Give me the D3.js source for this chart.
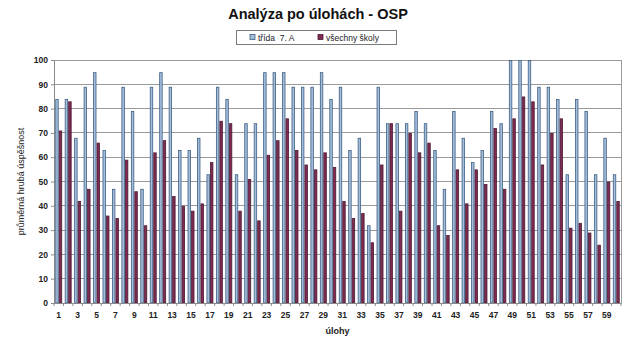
<!DOCTYPE html>
<html><head><meta charset="utf-8">
<script src="https://cdn.jsdelivr.net/npm/d3@7"></script>
<style>body{margin:0;background:#fff}svg{display:block;font-family:"Liberation Sans",Arial,sans-serif}</style>
</head><body>
<script>
const categories = d3.range(1, 61);
const trida = [84,84,68,89,95,63,47,89,79,47,89,95,89,63,63,68,53,89,84,53,74,74,95,95,95,89,89,89,95,84,89,63,68,32,89,74,74,74,79,74,63,47,79,68,58,63,79,74,100,100,100,89,89,84,53,84,79,53,68,53];
const vsechny = [71,83,42,47,66,36,35,59,46,32,62,67,44,40,38,41,58,75,74,38,51,34,61,67,76,63,57,55,62,56,42,35,37,25,57,74,38,70,62,66,32,28,55,41,55,49,72,47,76,85,83,57,70,76,31,33,29,24,50,42];
const seriesNames = ["třída  7. A", "všechny školy"];
const yTicks = d3.range(0, 101, 10);

const W = 640, H = 355;
const m = {left: 54, right: 19, top: 60, bottom: 52};
const svg = d3.select("body").append("svg").attr("width", W).attr("height", H);
const x = d3.scaleBand().domain(categories).range([m.left, W - m.right]).paddingInner(0.26).paddingOuter(0.13);
const xs = d3.scaleBand().domain([0,1]).range([0, x.bandwidth()]);
const y = d3.scaleLinear().domain([0, 100]).range([H - m.bottom, m.top]);

// gridlines
svg.append("g").selectAll("line").data(yTicks.slice(1)).join("line")
  .attr("x1", m.left).attr("x2", W - m.right)
  .attr("y1", d => y(d)).attr("y2", d => y(d))
  .attr("stroke", "#9a9a9a").attr("stroke-width", 1).attr("shape-rendering", "crispEdges");
// right border
svg.append("line").attr("x1", W - m.right).attr("x2", W - m.right).attr("y1", m.top).attr("y2", H - m.bottom)
  .attr("stroke", "#9a9a9a").attr("shape-rendering", "crispEdges");

const colors = [{fill: "#a3bddb", stroke: "#3e5f84"}, {fill: "#7d2b53", stroke: "#4e1a33"}];
const series = [trida, vsechny];
series.forEach((vals, si) => {
  svg.append("g").selectAll("rect").data(categories).join("rect")
    .attr("x", d => x(d) + xs(si) + 0.5)
    .attr("width", xs.bandwidth() - 1)
    .attr("y", (d, i) => y(vals[i]) + 0.5)
    .attr("height", (d, i) => y(0) - y(vals[i]) - 0.5)
    .attr("fill", colors[si].fill).attr("stroke", colors[si].stroke).attr("stroke-width", 0.8);
});

// y axis
const ya = svg.append("g").attr("transform", `translate(${m.left},0)`)
  .call(d3.axisLeft(y).tickValues(yTicks).tickSize(3).tickPadding(3));
ya.select(".domain").attr("stroke", "#8a8a8a");
ya.selectAll(".tick line").attr("stroke", "#8a8a8a");
ya.selectAll("text").attr("font-size", 8.5).attr("font-weight", "bold").attr("fill", "#222").attr("font-family", "Liberation Sans, Arial");

// x axis
const xa = svg.append("g").attr("transform", `translate(0,${H - m.bottom})`)
  .call(d3.axisBottom(x).tickValues(categories.filter(d => d % 2 === 1)).tickSize(0).tickPadding(9));
xa.select(".domain").attr("stroke", "#8a8a8a");
xa.selectAll("text").attr("font-size", 8.5).attr("font-weight", "bold").attr("fill", "#222").attr("font-family", "Liberation Sans, Arial");
// category boundary ticks
const step = x.step();
svg.append("g").selectAll("line").data(d3.range(0, categories.length + 1)).join("line")
  .attr("x1", i => m.left + i * (W - m.left - m.right) / categories.length)
  .attr("x2", i => m.left + i * (W - m.left - m.right) / categories.length)
  .attr("y1", H - m.bottom).attr("y2", H - m.bottom + 3)
  .attr("stroke", "#8a8a8a");

// titles
svg.append("text").attr("x", 318).attr("y", 19).attr("text-anchor", "middle")
  .attr("font-size", 14.5).attr("font-weight", "bold").attr("fill", "#111").text("Analýza po úlohách - OSP");
svg.append("text").attr("x", (m.left + W - m.right) / 2).attr("y", 334).attr("text-anchor", "middle")
  .attr("font-size", 9).attr("font-weight", "bold").attr("fill", "#222").text("úlohy");
svg.append("text").attr("transform", `translate(24,${(m.top + H - m.bottom) / 2}) rotate(-90)`)
  .attr("text-anchor", "middle").attr("font-size", 9).attr("fill", "#222").text("průměrná hrubá úspěšnost");

// legend
const lg = svg.append("g");
lg.append("rect").attr("x", 236.5).attr("y", 30.5).attr("width", 160).attr("height", 14)
  .attr("fill", "#fff").attr("stroke", "#7a7a7a");
const lx = [250, 318];
seriesNames.forEach((n, i) => {
  lg.append("rect").attr("x", lx[i]).attr("y", 34.5).attr("width", 5).attr("height", 5)
    .attr("fill", colors[i].fill).attr("stroke", colors[i].stroke).attr("stroke-width", 0.8);
  lg.append("text").attr("x", lx[i] + 8).attr("y", 40.5).attr("font-size", 8.5).attr("fill", "#222")
    .attr("xml:space", "preserve").style("white-space", "pre").text(n);
});
</script>
</body></html>
